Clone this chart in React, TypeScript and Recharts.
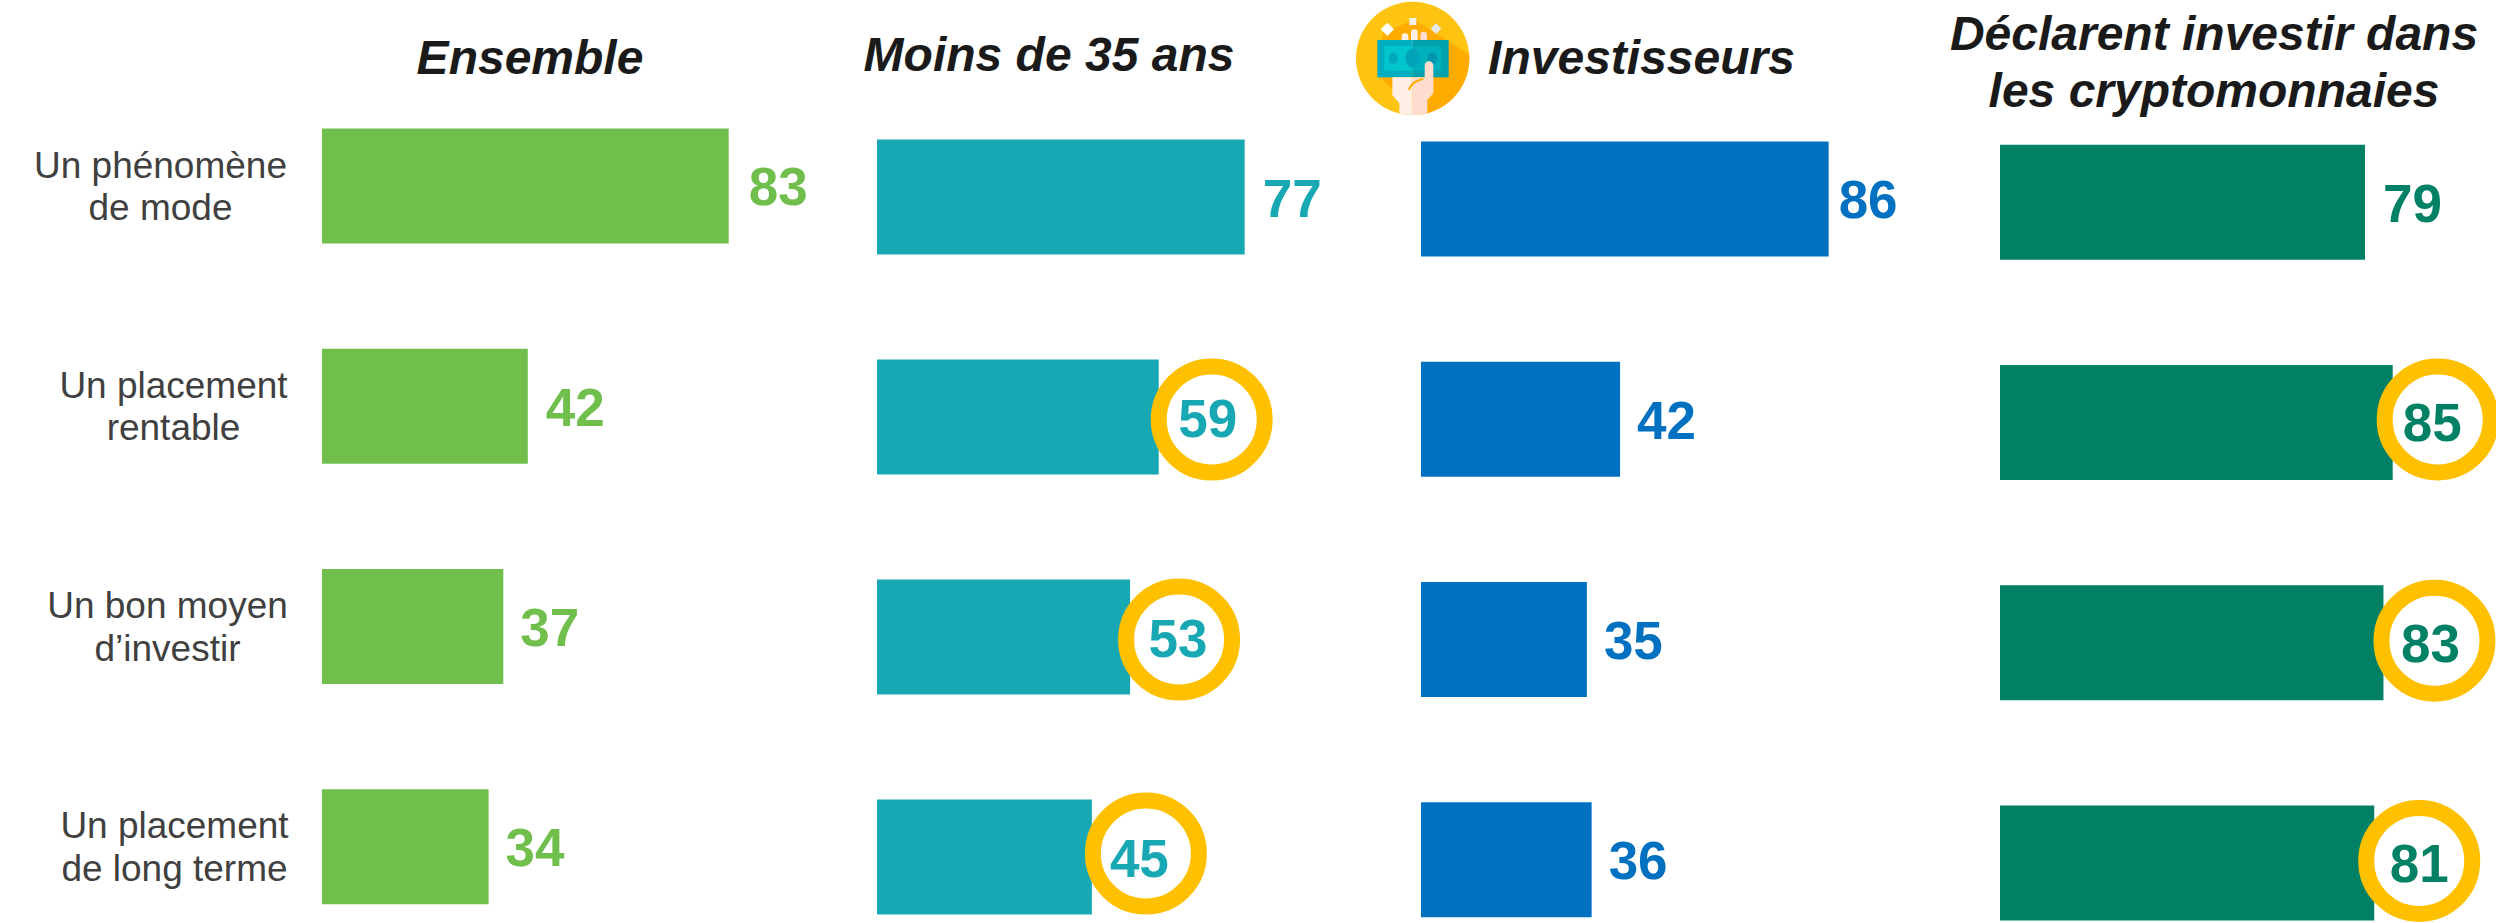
import React from 'react';
import { BarChart, Bar, XAxis, YAxis, LabelList } from 'recharts';

const categoryLines = [
  ['Un phénomène', 'de mode'],
  ['Un placement', 'rentable'],
  ['Un bon moyen', 'd’investir'],
  ['Un placement', 'de long terme'],
];
const categories = categoryLines.map((l) => l.join(' '));
const ensembleValues = [83, 42, 37, 34];
const moins35Values = [77, 59, 53, 45];
const investisseursValues = [86, 42, 35, 36];
const cryptoValues = [79, 85, 83, 81];
const moins35Circled = [false, true, true, true];
const cryptoCircled = [false, true, true, true];
const noneCircled = [false, false, false, false];

const FONT = '"Liberation Sans", Arial, sans-serif';
const VALUE_SIZE = 53;
const RING = '#FFC000';

const categoryCenters = [160.5, 173.5, 167.5, 174.5];

type Nudge = { ringX: number; ringY: number; textX: number; textY: number };
const ringsMoins35: (Nudge | null)[] = [
  null,
  { ringX: 53, ringY: 2.5, textX: 49, textY: 0.5 },
  { ringX: 49, ringY: 2.5, textX: 48, textY: 1 },
  { ringX: 54, ringY: -3.5, textX: 47.5, textY: 1 },
];
const ringsCrypto: (Nudge | null)[] = [
  null,
  { ringX: 45, ringY: -3, textX: 39.5, textY: 0 },
  { ringX: 51, ringY: -2, textX: 47, textY: 0 },
  { ringX: 45, ringY: -2, textX: 45, textY: 0 },
];
const noRings: (Nudge | null)[] = [null, null, null, null];

const panels = [
  { key: 'ensemble', values: ensembleValues, circled: noneCircled, rings: noRings, color: '#70BF4D', left: 0, axis: 322, top: 75, shift: 0.4, plot: 490, height: 881, gaps: [20, 18, 17, 17] },
  { key: 'moins35', values: moins35Values, circled: moins35Circled, rings: ringsMoins35, color: '#18A8B4', left: 877, axis: 0, top: 86, shift: 0.5, plot: 477.5, height: 880, gaps: [18, 17, 17, 17] },
  { key: 'investisseurs', values: investisseursValues, circled: noneCircled, rings: noRings, color: '#0070C0', left: 1421, axis: 0, top: 88, shift: 0.4, plot: 474, height: 881, gaps: [10, 17, 17, 17] },
  { key: 'crypto', values: cryptoValues, circled: cryptoCircled, rings: ringsCrypto, color: '#008064', left: 2000, axis: 0, top: 91, shift: 0.7, plot: 462, height: 881, gaps: [18, 17, 17, 17] },
];

function CategoryTick(props: any) {
  const { y, index } = props;
  const lines = categoryLines[index];
  const cx = categoryCenters[index];
  return (
    <g>
      <text x={cx} y={y - 8} textAnchor="middle" fontFamily={FONT} fontSize={37} fill="#404040">{lines[0]}</text>
      <text x={cx} y={y + 34.5} textAnchor="middle" fontFamily={FONT} fontSize={37} fill="#404040">{lines[1]}</text>
    </g>
  );
}

function valueLabel(panel: (typeof panels)[number]) {
  return (props: any) => {
    const { x, y, width, height, value, index } = props;
    const end = x + width;
    const mid = y + height / 2;
    const nudge = panel.circled[index] ? panel.rings[index] : null;
    if (nudge) {
      return (
        <g>
          <circle cx={end + nudge.ringX} cy={mid + nudge.ringY} r={53} fill="#FFFFFF" stroke={RING} strokeWidth={16} />
          <text x={end + nudge.textX} y={mid + nudge.textY + 19} textAnchor="middle" fontFamily={FONT} fontWeight="bold" fontSize={VALUE_SIZE} fill={panel.color}>{value}</text>
        </g>
      );
    }
    return (
      <text x={end + panel.gaps[index]} y={mid + 19.5} textAnchor="start" fontFamily={FONT} fontWeight="bold" fontSize={VALUE_SIZE} fill={panel.color}>{value}</text>
    );
  };
}

function Panel({ panel }: { panel: (typeof panels)[number] }) {
  const rows = categories.map((name, i) => ({ name, value: panel.values[i] }));
  return (
    <div style={{ position: 'absolute', left: panel.left, top: panel.top }}>
      <BarChart
        layout="vertical"
        width={panel.axis + panel.plot + 34}
        height={panel.height + panel.shift}
        data={rows}
        margin={{ top: panel.shift, right: 34, bottom: 0, left: 0 }}
        style={{ overflow: 'visible' }}
      >
        <XAxis type="number" domain={[0, 100]} hide />
        {panel.axis > 0 ? (
          <YAxis type="category" dataKey="name" width={panel.axis} axisLine={false} tickLine={false} tick={<CategoryTick />} interval={0} />
        ) : (
          <YAxis type="category" dataKey="name" hide />
        )}
        <Bar dataKey="value" fill={panel.color} barSize={115} isAnimationActive={false}>
          <LabelList dataKey="value" content={valueLabel(panel)} />
        </Bar>
      </BarChart>
    </div>
  );
}

function Icon() {
  return (
    <svg width={150} height={120} viewBox="0 0 450 360" style={{ position: 'absolute', left: 1340, top: 0 }}>
      <defs>
        <clipPath id="disc"><circle cx={218} cy={175} r={170} /></clipPath>
      </defs>
      <circle cx={218} cy={175} r={170} fill="#FFC312" />
      <g clipPath="url(#disc)">
        <polygon points="130,95 225,60 390,165 400,360 262,360 110,225" fill="#FFAB00" />
        <polygon points="142,68 162,88 142,108 122,88" fill="#FFFFFF" />
        <rect x={208} y={54} width={21} height={21} fill="#F2F2F2" />
        <polygon points="288,70 304,86 288,102 272,86" fill="#E6E8EE" />
        <rect x={185} y={100} width={20} height={40} rx={10} fill="#FFEFE6" />
        <rect x={213} y={88} width={20} height={50} rx={10} fill="#FFEFE6" />
        <rect x={241} y={95} width={20} height={45} rx={10} fill="#FFDDCE" />
        <rect x={112} y={120} width={106} height={112} fill="#00AEC2" />
        <rect x={218} y={120} width={108} height={112} fill="#00A2AE" />
        <rect x={133} y={138} width={85} height={74} fill="#00C6CC" />
        <rect x={218} y={138} width={87} height={74} fill="#00B0BC" />
        <ellipse cx={160} cy={175} rx={14} ry={18} fill="#00A9BE" />
        <ellipse cx={218} cy={175} rx={22} ry={29} fill="#00A4BA" />
        <ellipse cx={277} cy={175} rx={14} ry={18} fill="#0097AE" />
        <path d="M157 232 L157 285 L178 310 L178 350 L218 350 L218 232 Z" fill="#FFEFE6" />
        <path d="M218 232 L254 232 L254 197 A13 13 0 0 1 280 197 L280 280 L262 300 L262 350 L218 350 Z" fill="#FFDDCE" />
        <path d="M207 270 Q212 246 250 236" stroke="#FFAB00" strokeWidth={6} fill="none" />
      </g>
    </svg>
  );
}

function Titles() {
  const base = { fontFamily: FONT, fontWeight: 'bold', fontStyle: 'italic', fontSize: 48, fill: '#1A1A1A' } as const;
  return (
    <svg width={2496} height={130} style={{ position: 'absolute', left: 0, top: 0 }}>
      <text x={530} y={74} textAnchor="middle" {...base}>Ensemble</text>
      <text x={1049} y={71} textAnchor="middle" {...base}>Moins de 35 ans</text>
      <text x={1641.5} y={74} textAnchor="middle" {...base}>Investisseurs</text>
      <text x={2214} y={50} textAnchor="middle" {...base}>Déclarent investir dans</text>
      <text x={2214} y={107} textAnchor="middle" {...base}>les cryptomonnaies</text>
    </svg>
  );
}

export default function App() {
  return (
    <div style={{ position: 'absolute', left: 0, top: 0, width: 2496, height: 923, overflow: 'hidden', background: '#FFFFFF' }}>
      <Titles />
      <Icon />
      {panels.map((p) => (
        <Panel key={p.key} panel={p} />
      ))}
    </div>
  );
}
